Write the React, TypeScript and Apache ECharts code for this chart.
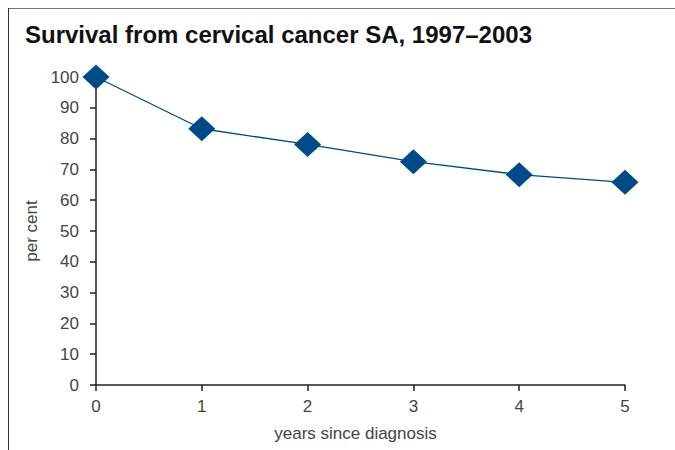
import React, { useEffect, useRef } from "react";
import * as echarts from "echarts";

const years = ["0", "1", "2", "3", "4", "5"];
const survival = [100, 83.2, 78.1, 72.5, 68.3, 65.8];
const yTicks = [0, 10, 20, 30, 40, 50, 60, 70, 80, 90, 100];

export default function App() {
  const ref = useRef<HTMLDivElement>(null);
  useEffect(() => {
    const chart = echarts.init(ref.current!, null, { renderer: "svg" });
    chart.setOption({
      animation: false,
      backgroundColor: "#fff",
      title: {
        text: "Survival from cervical cancer SA, 1997–2003",
        left: 20,
        top: 17,
        textStyle: { fontFamily: "Liberation Sans", fontWeight: "bold", fontSize: 24, color: "#111" },
      },
      graphic: [
        { type: "line", shape: { x1: 8, y1: 8.5, x2: 675, y2: 8.5 }, style: { stroke: "#777", lineWidth: 1 } },
        { type: "line", shape: { x1: 8.5, y1: 8, x2: 8.5, y2: 450 }, style: { stroke: "#333", lineWidth: 1 } },
      ],
      grid: { left: 96, right: 50, top: 77, bottom: 65, containLabel: false },
      xAxis: {
        type: "category",
        data: years,
        boundaryGap: false,
        name: "years since diagnosis",
        nameLocation: "middle",
        nameGap: 40,
        nameTextStyle: { fontFamily: "Liberation Sans", fontSize: 17, color: "#444", padding: [0, 10, 0, 0] },
        axisLine: { lineStyle: { color: "#222", width: 1.5 } },
        axisTick: { show: true, alignWithLabel: true, length: 6, lineStyle: { color: "#222", width: 1.5 } },
        axisLabel: { fontFamily: "Liberation Sans", fontSize: 17, color: "#444", margin: 13 },
        splitLine: { show: false },
      },
      yAxis: {
        type: "value",
        min: 0,
        max: 100,
        interval: 10,
        name: "per cent",
        nameLocation: "middle",
        nameGap: 52,
        nameRotate: 90,
        nameTextStyle: { fontFamily: "Liberation Sans", fontSize: 17, color: "#444" },
        axisLine: { show: true, lineStyle: { color: "#222", width: 1.5 } },
        axisTick: { show: true, length: 6, lineStyle: { color: "#222", width: 1.5 } },
        axisLabel: {
          fontFamily: "Liberation Sans",
          fontSize: 17,
          color: "#444",
          margin: 17,
          formatter: (v: number) => (yTicks.includes(v) ? String(v) : ""),
        },
        splitLine: { show: false },
      },
      series: [
        {
          type: "line",
          data: survival,
          symbol: "diamond",
          symbolSize: [27, 25],
          itemStyle: { color: "#004a87" },
          lineStyle: { color: "#004a87", width: 1.3 },
        },
      ],
    });
    return () => chart.dispose();
  }, []);
  return <div ref={ref} style={{ position: "absolute", left: 0, top: 0, width: 675, height: 450 }} />;
}
